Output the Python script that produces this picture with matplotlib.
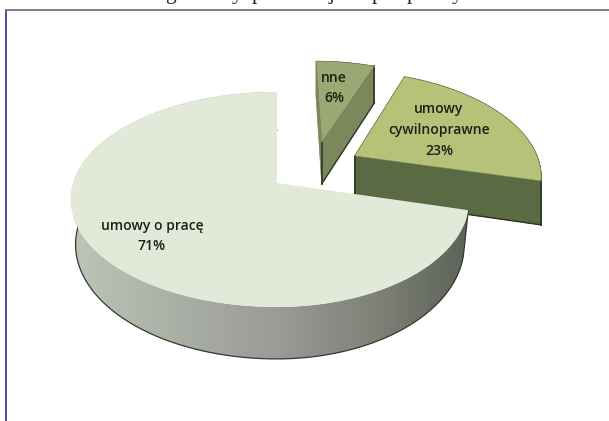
import numpy as np
import matplotlib
matplotlib.use('Agg')
import matplotlib.pyplot as plt
from matplotlib.colors import LinearSegmentedColormap
from matplotlib.patches import Polygon, PathPatch
from matplotlib.path import Path

# udzial form zatrudnienia
labels = ['umowy o pracę\n71%', 'umowy\ncywilnoprawne\n23%', 'nne\n6%']
values = [71, 23, 6]
top_colors = ['#e2e9d8', '#b6c278', '#9aa874']
side_colors = ['#8c9186', '#5a6a42', '#7a885c']
edge_colors = ['#33372f', '#2c3320', '#2f3524']

# widoczne dolne fragmenty uciętego tytułu
title_glyphs = ['g', 'y', 'p', 'j', 'p', 'p', 'y']
title_x = [170, 237, 257, 332, 377, 412, 457]

# rzut koła na obraz (perspektywa)
CX, CY = 277, 183
A, B, K = 190, 105, 0.153
A_LEFT = 204
DEPTH = 44
BOTTOM_SCALE = 0.975
# przesuniecia wycinkow w ukladzie kola
explode = {1: (0.425, 0.268), 2: (0.25, 0.41)}


def project(u, v):
    d = 1 + K * v
    a = np.where(u < 0, A_LEFT, A)
    return CX + a * u / d, CY - B * v / d, DEPTH / d


def wedge(start, stop, offset=(0, 0)):
    t = np.radians(np.linspace(start, stop, 120))
    u = np.r_[0, np.sin(t)] + offset[0]
    v = np.r_[0, np.cos(t)] + offset[1]
    return project(u, v)


fig = plt.figure(figsize=(6.09, 4.21), dpi=100)
ax = fig.add_axes([0, 0, 1, 1])
ax.set_xlim(0, 609)
ax.set_ylim(421, 0)
ax.axis('off')

for x, g in zip(title_x, title_glyphs):
    ax.text(x, -1.5, g, family='Liberation Serif', fontsize=15.5, ha='center',
            va='baseline', color='#222222', clip_on=False)

# ramka
ax.plot([6, 6], [10, 421], color='#5a4a96', lw=1.4)
ax.plot([6, 609], [10, 10], color='#77757c', lw=1.3)

ang_inne = (0, values[2] * 3.6)
ang_cyw = (ang_inne[1], ang_inne[1] + values[1] * 3.6)
ang_main = (ang_cyw[1], 360)

# male wycinki
for idx, (a0, a1) in ((2, ang_inne), (1, ang_cyw)):
    x, y, d = wedge(a0, a1, explode[idx])
    xc, yc, dc = np.r_[x, x[0]], np.r_[y, y[0]], np.r_[d, d[0]]
    for i in range(len(x)):
        ax.add_patch(Polygon([(xc[i], yc[i]), (xc[i+1], yc[i+1]),
                              (xc[i+1], yc[i+1] + dc[i+1]), (xc[i], yc[i] + dc[i])],
                             fc=side_colors[idx], ec=side_colors[idx], lw=0.5, zorder=2))
    # ciemne krawedzie boku
    ax.plot([x[-1], x[0]], [y[-1] + d[-1], y[0] + d[0]], color=edge_colors[idx], lw=1.0, zorder=3)
    ax.plot([x[0], x[0]], [y[0], y[0] + d[0]], color=edge_colors[idx], lw=1.2, zorder=3)
    ax.plot([x[-1], x[-1]], [y[-1], y[-1] + d[-1]], color=edge_colors[idx], lw=1.2, zorder=3)
    ax.add_patch(Polygon(np.c_[x, y], fc=top_colors[idx], ec='#6f7a50', lw=0.4, zorder=4))

# duzy wycinek: bok z gradientem, dolna krawedz lekko zwezona
x, y, d = wedge(*ang_main)
x, y, d = x[1:], y[1:], d[1:]
xb = CX - 7 + (x - CX + 7) * BOTTOM_SCALE
side = np.c_[np.r_[x, xb[::-1]], np.r_[y, (y + d)[::-1]]]
clip = PathPatch(Path(np.r_[side, side[:1]]), transform=ax.transData, fc='none', ec='none')
ax.add_patch(clip)
side_cmap = LinearSegmentedColormap.from_list('bok', ['#bcc4b6', '#aab0a6', '#9b9d98', '#7f8379', '#5d6258'])
im = ax.imshow(np.linspace(0, 1, 256)[None, :], cmap=side_cmap, extent=(73, 470, 421, 90),
               aspect='auto', interpolation='bilinear', zorder=5)
im.set_clip_path(clip)
ax.set_xlim(0, 609)
ax.set_ylim(421, 0)
ax.plot(xb, y + d, color=edge_colors[0], lw=0.9, zorder=6)
ax.plot([x[0], xb[0]], [y[0], y[0] + d[0]], color=edge_colors[0], lw=0.9, zorder=6)

# wierzch
px, py, _ = wedge(*ang_main)
ax.add_patch(Polygon(np.c_[px, py], fc=top_colors[0], ec='none', zorder=7))

font = dict(family='Open Sans', weight='semibold', fontsize=10, ha='center', va='center',
            color='#1d2018', linespacing=1.6, zorder=9)
ax.text(152, 236, labels[0], **font)
ax.text(439, 130, labels[1], **font)
ax.text(334, 88, labels[2], **font)

fig.savefig('out.png', dpi=100)
